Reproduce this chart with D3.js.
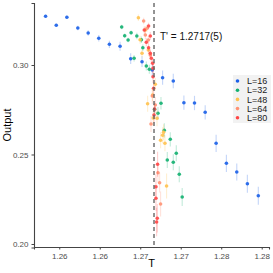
<!DOCTYPE html>
<html>
<head>
<meta charset="utf-8">
<script src="https://cdn.jsdelivr.net/npm/d3@7"></script>
<style>
  body { margin: 0; background: #fff; }
  text { font-family: "Liberation Sans", Arial, sans-serif; }
</style>
</head>
<body>
<div id="vis-container"></div>
<script>
// data: [T, output, error]
const L16 = [
  [1.25831, 0.32721, 0.0008], [1.25963, 0.32218, 0.0008], [1.26094, 0.32665, 0.0010],
  [1.26229, 0.32067, 0.0012], [1.26357, 0.31788, 0.0015], [1.26488, 0.31492, 0.0018],
  [1.26619, 0.31156, 0.0020], [1.26751, 0.31045, 0.0025], [1.26882, 0.30352, 0.0030],
  [1.27022, 0.30184, 0.0030], [1.27149, 0.29721, 0.0035], [1.27276, 0.29290, 0.0040],
  [1.27408, 0.29106, 0.0040], [1.27539, 0.27894, 0.0040], [1.27670, 0.27877, 0.0040],
  [1.27802, 0.27358, 0.0040], [1.27937, 0.25626, 0.0048], [1.28064, 0.24508, 0.0048],
  [1.28192, 0.24022, 0.0048], [1.28323, 0.23369, 0.0050], [1.28458, 0.22698, 0.0050]
];
const L32 = [
  [1.26771, 0.32123, 0.0012], [1.26808, 0.31637, 0.0012], [1.26850, 0.31397, 0.0012],
  [1.26887, 0.31804, 0.0012], [1.26924, 0.30374, 0.0018], [1.26958, 0.31620, 0.0018],
  [1.27014, 0.31413, 0.0018], [1.27032, 0.30966, 0.0018], [1.27075, 0.29944, 0.0025],
  [1.27112, 0.29760, 0.0025], [1.27177, 0.27525, 0.0035], [1.27219, 0.27302, 0.0035],
  [1.27256, 0.27860, 0.0035], [1.27297, 0.26352, 0.0040], [1.27334, 0.24693, 0.0045],
  [1.27371, 0.25849, 0.0040], [1.27408, 0.24564, 0.0045], [1.27445, 0.25067, 0.0045],
  [1.27482, 0.23894, 0.0045], [1.27518, 0.22626, 0.0050]
];
const L48 = [
  [1.26977, 0.32642, 0.0018], [1.26998, 0.31413, 0.0022], [1.27022, 0.30654, 0.0022],
  [1.27063, 0.31955, 0.0022], [1.27100, 0.30838, 0.0025], [1.27153, 0.28324, 0.0035],
  [1.27186, 0.28922, 0.0035], [1.27091, 0.27838, 0.0045], [1.27161, 0.27039, 0.0045],
  [1.27207, 0.27022, 0.0045], [1.27288, 0.26240, 0.0045], [1.27276, 0.26073, 0.0045],
  [1.27251, 0.25793, 0.0045], [1.27305, 0.25626, 0.0045], [1.27325, 0.23240, 0.0070]
];
const L64 = [
  [1.27042, 0.32458, 0.0018], [1.27084, 0.32050, 0.0018], [1.27063, 0.31676, 0.0022],
  [1.27100, 0.31397, 0.0022], [1.27124, 0.30559, 0.0028], [1.27149, 0.28268, 0.0045],
  [1.27186, 0.27765, 0.0045], [1.27133, 0.26704, 0.0045], [1.27219, 0.23983, 0.0055],
  [1.27239, 0.23425, 0.0055], [1.27251, 0.22235, 0.0070]
];
const L80 = [
  [1.27103, 0.32179, 0.0018], [1.27050, 0.31955, 0.0020], [1.27124, 0.31620, 0.0022],
  [1.27075, 0.31268, 0.0022], [1.27103, 0.30966, 0.0022], [1.27124, 0.30654, 0.0022],
  [1.27137, 0.30374, 0.0028], [1.27153, 0.30095, 0.0028], [1.27158, 0.29816, 0.0028],
  [1.27158, 0.29346, 0.0035], [1.27165, 0.28698, 0.0035], [1.27177, 0.27542, 0.0045],
  [1.27170, 0.27207, 0.0045], [1.27214, 0.24453, 0.0070], [1.27194, 0.23201, 0.0070],
  [1.27194, 0.22553, 0.0070], [1.27210, 0.21436, 0.0080], [1.27202, 0.21229, 0.0080]
];
const seriesNames = ["L=16", "L=32", "L=48", "L=64", "L=80"];
const seriesColors = ["#1a5fe8", "#12b070", "#ffc24f", "#ff9274", "#ff4646"];
const xTicks = [1.260, 1.265, 1.270, 1.275, 1.280, 1.285];
const xTickLabels = ["1.26", "1.26", "1.27", "1.27", "1.28", "1.28"];
const yTicks = [0.20, 0.25, 0.30];
const Tc = 1.2717;
const TcLabel = "T' = 1.2717(5)";

let allSeries = [L16, L32, L48, L64, L80];

let width = 273, height = 273;
let margins = {top: 3, right: 4, bottom: 26, left: 34};

let svg = d3.select("#vis-container").append("svg")
    .attr("width", width).attr("height", height);

let xScale = d3.scaleLinear()
    .domain([1.25688, 1.28590])
    .range([margins.left, width - margins.right]);
let yScale = d3.scaleLinear()
    .domain([0.19804, 0.33464])
    .range([height - margins.bottom + 0.5, margins.top]);

// error bars + points
allSeries.forEach((s, i) => {
    let g = svg.append("g");
    g.selectAll("line").data(s).enter().append("line")
        .attr("x1", d => xScale(d[0])).attr("x2", d => xScale(d[0]))
        .attr("y1", d => yScale(d[1] - d[2])).attr("y2", d => yScale(d[1] + d[2]))
        .attr("stroke", seriesColors[i]).attr("stroke-width", 1.1).attr("opacity", 0.25);
    g.selectAll("circle").data(s).enter().append("circle")
        .attr("cx", d => xScale(d[0])).attr("cy", d => yScale(d[1]))
        .attr("r", 1.8).attr("fill", seriesColors[i]).attr("opacity", 0.9);
});

// critical line
svg.append("line")
    .attr("x1", xScale(Tc)).attr("x2", xScale(Tc))
    .attr("y1", margins.top).attr("y2", height - margins.bottom)
    .attr("stroke", "#666").attr("stroke-width", 1.4).attr("stroke-dasharray", "4,3");
svg.append("text").attr("x", xScale(Tc) + 6).attr("y", 40)
    .attr("font-size", 10).attr("fill", "#111").text(TcLabel);

// axes
let xAxis = svg.append("g")
    .attr("transform", "translate(0," + (height - margins.bottom) + ")")
    .call(d3.axisBottom(xScale).tickValues(xTicks).tickSize(2.5)
        .tickFormat((d, i) => xTickLabels[i]));
let yAxis = svg.append("g")
    .attr("transform", "translate(" + margins.left + ",0)")
    .call(d3.axisLeft(yScale).tickValues(yTicks).tickSize(2.5).tickFormat(d3.format(".2f")));
[xAxis, yAxis].forEach(a => {
    a.select(".domain").attr("stroke", "#444").attr("stroke-width", 1.1);
    a.selectAll(".tick line").attr("stroke", "#444");
    a.selectAll(".tick text").attr("fill", "#4d4d4d").attr("font-size", 8)
        .style("font-family", "Liberation Sans, Arial, sans-serif");
});
xAxis.selectAll(".tick text").attr("dy", "0.85em");

svg.append("text").attr("x", (margins.left + width - margins.right) / 2).attr("y", 267)
    .attr("text-anchor", "middle").attr("font-size", 11).text("T");
svg.append("text").attr("transform", "translate(11," + ((margins.top + height - margins.bottom) / 2) + ") rotate(-90)")
    .attr("text-anchor", "middle").attr("font-size", 11).text("Output");

// legend
let legend = svg.append("g").attr("transform", "translate(233,75)");
legend.append("rect").attr("width", 38).attr("height", 48).attr("fill", "#f2f2f2");
seriesNames.forEach((n, i) => {
    legend.append("circle").attr("cx", 4.5).attr("cy", 6 + i * 9.2)
        .attr("r", 1.8).attr("fill", seriesColors[i]);
    legend.append("text").attr("x", 14).attr("y", 6 + i * 9.2).attr("dy", "0.35em")
        .attr("font-size", 9).attr("fill", "#1a1a1a").text(n);
});
</script>
</body>
</html>
